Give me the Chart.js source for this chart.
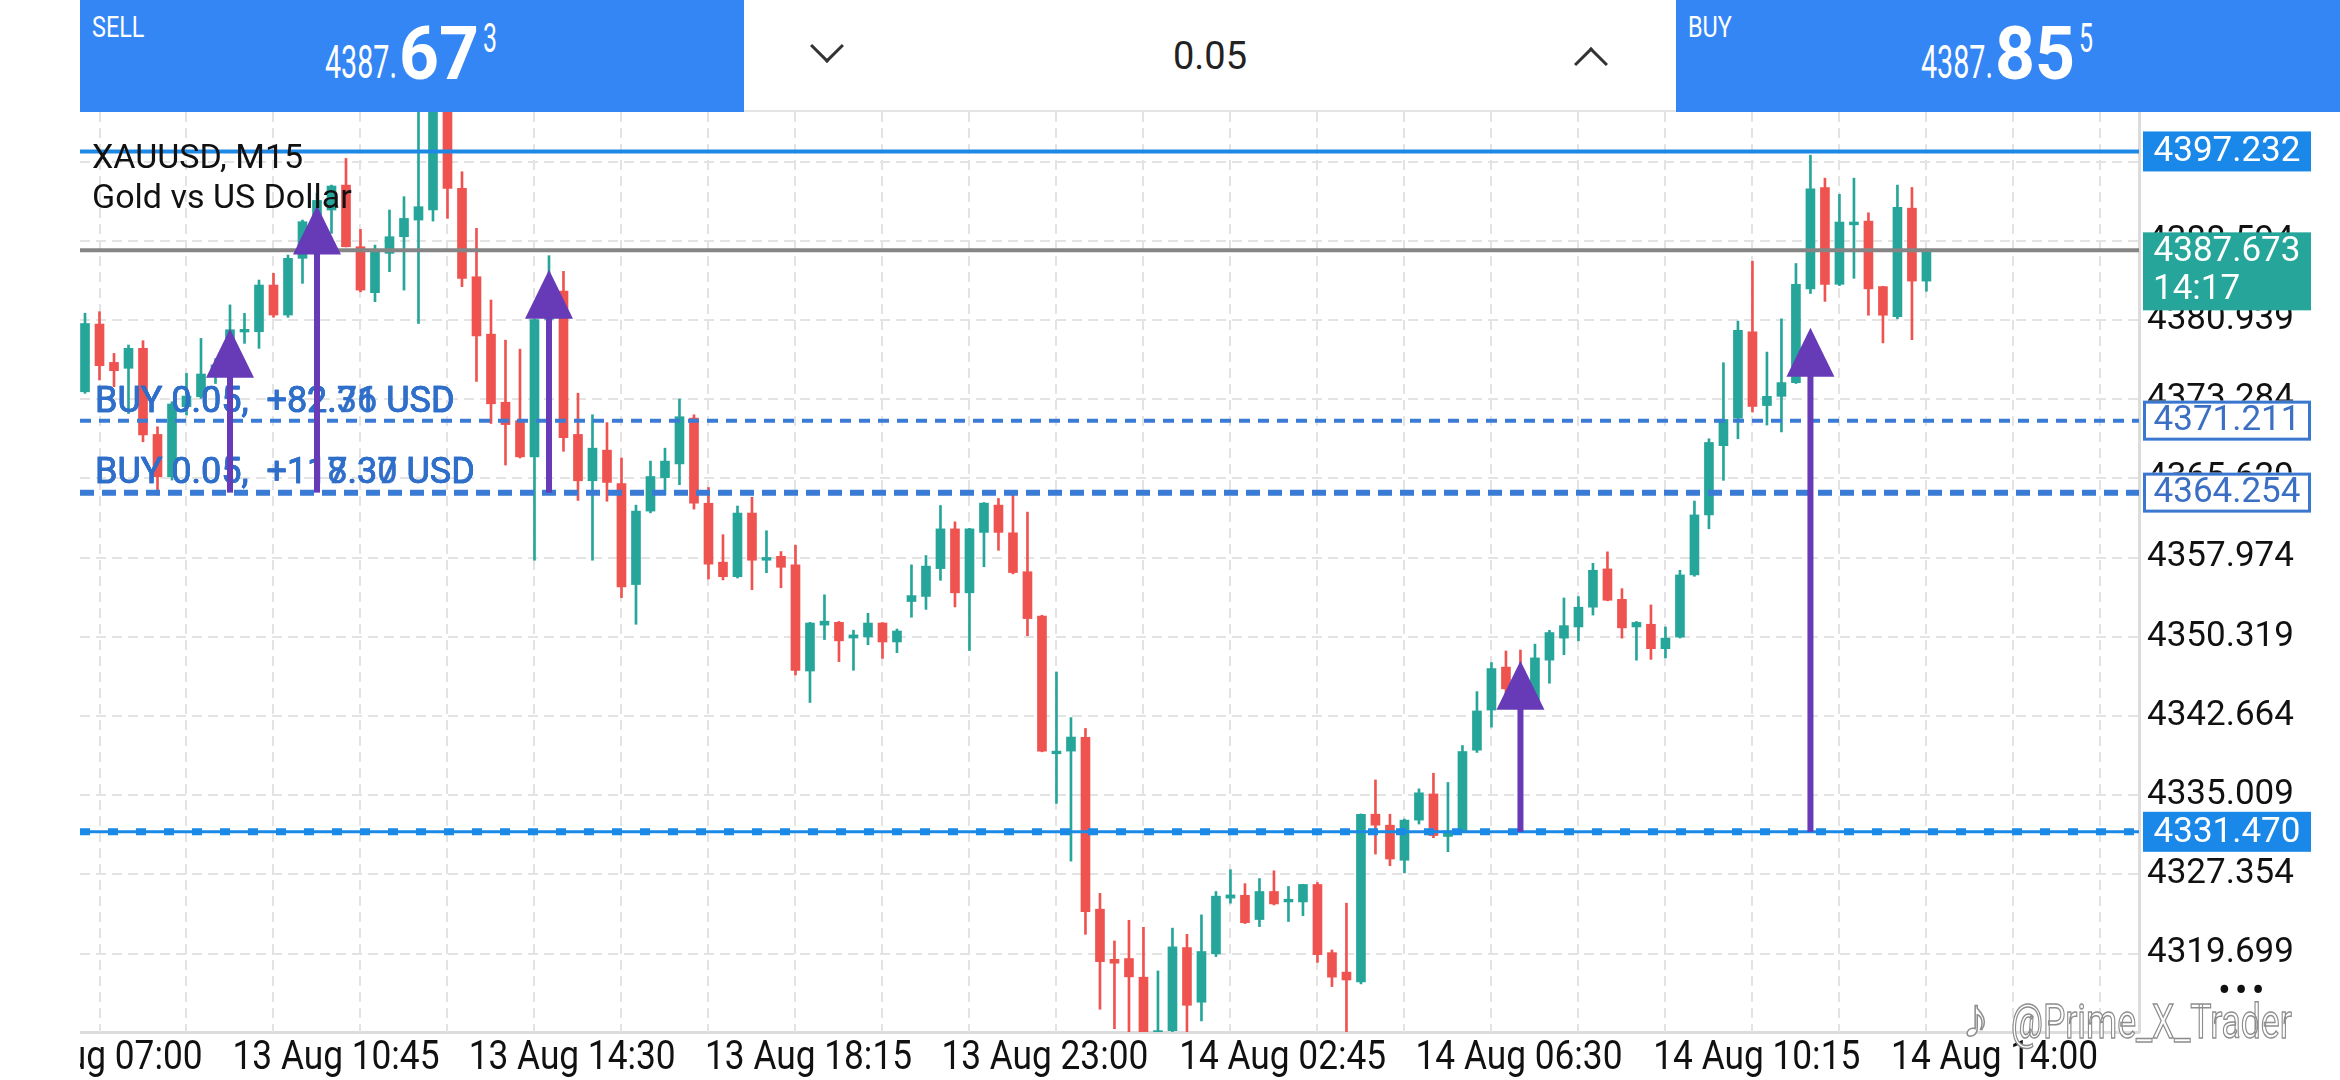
<!DOCTYPE html>
<html>
<head>
<meta charset="utf-8">
<script src="https://cdn.jsdelivr.net/npm/chart.js@4.4.1/dist/chart.umd.min.js"></script>
<style>
  html, body { margin: 0; padding: 0; background: #fff; }
  #wrap { position: relative; width: 2340px; height: 1080px; overflow: hidden; background: #fff; font-family: Roboto, sans-serif; }
  #chart { position: absolute; left: 0; top: 0; }
  #leftStrip { position: absolute; left: 0; top: 0; width: 80px; height: 1080px; background: #fff; }
  .panel { position: absolute; top: 0; height: 112px; }
  .panel svg { position: absolute; left: 0; top: 0; font-family: Roboto, sans-serif; }
  .blue { background: #3486f5; color: #fff; }
  .side { position: absolute; left: 12px; top: 12px; font-size: 30px; line-height: 30px; transform: scaleX(0.78); transform-origin: left top; }
  #mid { left: 744px; width: 932px; background: #fff; border-bottom: 2px solid #e4e4e4; box-sizing: border-box; }
  #lot { position: absolute; left: 0; right: 0; top: 0; line-height: 112px; text-align: center; font-size: 38px; color: #222; }
  .chev { position: absolute; width: 21px; height: 21px; border-right: 3.5px solid #333; border-bottom: 3.5px solid #333; }
  #title { position: absolute; left: 92px; top: 136px; font-size: 34px; line-height: 40px; color: #111; }
  #logo { position: absolute; left: 1962px; top: 988px; font-size: 56px; line-height: 60px; color: #fff; -webkit-text-stroke: 1.5px #8d8d8d; }
  #mark { position: absolute; left: 2011px; top: 992px; font-size: 48px; line-height: 60px; color: #fff; -webkit-text-stroke: 1.5px #8d8d8d; white-space: nowrap; transform: scaleX(0.74); transform-origin: left top; }
  #dots { position: absolute; left: 2218px; top: 970px; font-size: 38px; line-height: 40px; color: #111; letter-spacing: 4px; }
</style>
</head>
<body>
<div id="wrap">
  <canvas id="chart" width="2340" height="1080"></canvas>
  <div id="leftStrip"></div>
  <div id="title">XAUUSD, M15<br>Gold vs US Dollar</div>
  <div id="dots">•••</div>
  <div id="logo">♪</div>
  <div id="mark">@Prime_X_Trader</div>
  <div class="panel blue" style="left:80px;width:664px;">
    <div class="side">SELL</div>
    <svg width="664" height="112">
      <text x="245" y="78" font-size="47" fill="#fff" textLength="72" lengthAdjust="spacingAndGlyphs">4387.</text>
      <text x="319" y="79" font-size="75" font-weight="bold" fill="#fff" textLength="80" lengthAdjust="spacingAndGlyphs">67</text>
      <text x="403" y="52" font-size="41" fill="#fff" textLength="14" lengthAdjust="spacingAndGlyphs">3</text>
    </svg>
  </div>
  <div class="panel" id="mid">
    <div class="chev" style="left:71px;top:34px;transform:rotate(45deg);"></div>
    <div id="lot">0.05</div>
    <div class="chev" style="left:835px;top:52px;transform:rotate(-135deg);"></div>
  </div>
  <div class="panel blue" style="left:1676px;width:664px;">
    <div class="side">BUY</div>
    <svg width="664" height="112">
      <text x="245" y="78" font-size="47" fill="#fff" textLength="72" lengthAdjust="spacingAndGlyphs">4387.</text>
      <text x="319" y="79" font-size="75" font-weight="bold" fill="#fff" textLength="80" lengthAdjust="spacingAndGlyphs">85</text>
      <text x="403" y="52" font-size="41" fill="#fff" textLength="14" lengthAdjust="spacingAndGlyphs">5</text>
    </svg>
  </div>
</div>
<script>
// XAUUSD M15 candles, 13 Aug 07:00 .. 14 Aug ~14:00
const opens = [
  4374.00, 4380.55, 4376.84, 4376.27, 4378.20, 4369.88, 4365.79, 4372.56, 4373.52, 4375.70,
  4376.60, 4379.78, 4379.81, 4384.32, 4381.42, 4386.90, 4390.40, 4391.57, 4393.98, 4388.02,
  4383.58, 4387.38, 4388.99, 4390.60, 4391.57, 4402.50, 4393.66, 4385.12, 4379.57, 4372.99,
  4371.21, 4367.71, 4381.00, 4383.74, 4369.88, 4365.40, 4368.36, 4365.13, 4355.37, 4362.47,
  4365.70, 4367.03, 4371.47, 4363.23, 4357.53, 4356.13, 4362.28, 4357.72, 4358.10, 4357.27,
  4347.01, 4351.45, 4351.72, 4350.20, 4350.31, 4351.65, 4349.82, 4353.73, 4354.22, 4356.91,
  4360.75, 4354.57, 4360.41, 4363.05, 4360.37, 4356.61, 4352.31, 4339.01, 4339.27, 4340.59,
  4323.99, 4319.15, 4319.22, 4317.42, 4311.87, 4312.25, 4320.28, 4315.00, 4319.67, 4325.06,
  4325.33, 4322.99, 4325.70, 4324.69, 4324.69, 4326.38, 4319.79, 4317.91, 4316.96, 4333.17,
  4332.11, 4328.72, 4332.60, 4335.13, 4331.02, 4331.55, 4339.36, 4343.24, 4347.39, 4347.00,
  4344.04, 4348.06, 4350.19, 4351.27, 4353.18, 4356.88, 4353.94, 4351.27, 4351.53, 4349.17,
  4350.29, 4356.30, 4362.10, 4368.79, 4371.46, 4379.80, 4372.67, 4373.56, 4374.89, 4383.95,
  4393.75, 4384.39, 4390.14, 4390.50, 4384.17, 4381.27, 4391.75, 4384.70
];
const highs = [
  4381.60, 4381.74, 4377.71, 4378.52, 4378.94, 4370.62, 4373.04, 4375.78, 4379.16, 4377.20,
  4382.40, 4381.58, 4384.80, 4385.45, 4387.22, 4390.60, 4393.20, 4393.98, 4396.56, 4389.70,
  4388.18, 4391.57, 4392.86, 4403.50, 4406.00, 4404.50, 4395.27, 4389.80, 4382.87, 4378.99,
  4378.12, 4381.05, 4387.16, 4385.64, 4373.87, 4371.78, 4371.02, 4367.60, 4363.04, 4367.30,
  4368.55, 4373.30, 4371.78, 4364.75, 4360.19, 4362.96, 4363.80, 4360.57, 4358.56, 4359.17,
  4351.72, 4354.38, 4351.80, 4350.96, 4352.59, 4351.70, 4351.07, 4357.27, 4358.17, 4363.01,
  4361.43, 4360.80, 4363.30, 4363.69, 4364.25, 4362.37, 4352.40, 4346.92, 4342.51, 4341.46,
  4325.52, 4320.92, 4322.92, 4322.24, 4318.02, 4322.16, 4321.56, 4323.44, 4325.70, 4327.81,
  4326.46, 4326.95, 4327.70, 4326.19, 4326.40, 4326.57, 4320.05, 4324.57, 4333.20, 4336.48,
  4333.17, 4332.70, 4335.62, 4337.13, 4336.24, 4339.81, 4345.02, 4347.83, 4348.95, 4349.04,
  4349.61, 4350.95, 4354.07, 4354.20, 4357.42, 4358.53, 4354.97, 4351.80, 4353.40, 4351.27,
  4356.75, 4363.44, 4369.46, 4376.81, 4380.83, 4386.62, 4377.84, 4381.05, 4386.40, 4396.87,
  4394.65, 4393.09, 4394.65, 4391.30, 4384.20, 4393.98, 4393.75, 4387.80
];
const lows = [
  4373.85, 4375.14, 4374.49, 4371.90, 4369.17, 4364.02, 4365.47, 4371.75, 4373.36, 4374.80,
  4376.00, 4378.68, 4378.20, 4381.20, 4381.20, 4384.48, 4389.60, 4389.31, 4388.00, 4383.67,
  4382.71, 4385.61, 4383.83, 4380.60, 4390.50, 4390.76, 4384.16, 4375.00, 4370.94, 4366.92,
  4367.60, 4357.72, 4379.50, 4368.25, 4363.50, 4357.72, 4363.42, 4354.11, 4351.53, 4362.30,
  4364.07, 4365.02, 4362.66, 4355.90, 4355.82, 4356.00, 4354.87, 4356.51, 4355.06, 4346.63,
  4343.97, 4350.05, 4347.92, 4347.08, 4349.55, 4348.23, 4348.79, 4352.21, 4352.97, 4355.78,
  4353.21, 4348.99, 4357.09, 4358.68, 4356.40, 4350.42, 4339.20, 4334.22, 4328.64, 4321.56,
  4314.32, 4312.44, 4311.50, 4311.50, 4311.70, 4311.50, 4312.14, 4313.19, 4319.41, 4324.57,
  4322.60, 4322.31, 4324.40, 4322.80, 4323.37, 4318.85, 4316.51, 4311.50, 4316.77, 4329.32,
  4328.19, 4327.51, 4332.22, 4330.90, 4329.55, 4331.45, 4339.14, 4341.59, 4344.71, 4344.50,
  4343.82, 4345.83, 4348.59, 4349.93, 4352.42, 4353.80, 4350.19, 4348.06, 4348.14, 4348.28,
  4350.20, 4356.17, 4360.76, 4365.44, 4369.46, 4372.04, 4370.79, 4370.12, 4374.80, 4383.50,
  4382.74, 4384.26, 4384.97, 4381.40, 4378.73, 4381.05, 4379.04, 4383.72
];
const closes = [
  4380.60, 4376.52, 4376.04, 4378.20, 4369.82, 4365.79, 4372.82, 4373.59, 4375.72, 4376.60,
  4380.00, 4380.04, 4384.32, 4381.42, 4386.90, 4390.44, 4392.50, 4393.89, 4388.02, 4383.83,
  4387.54, 4388.99, 4390.76, 4391.89, 4403.00, 4393.66, 4384.96, 4379.40, 4372.84, 4370.83,
  4367.71, 4380.97, 4383.70, 4369.57, 4365.40, 4368.55, 4365.24, 4355.14, 4362.47, 4365.81,
  4367.30, 4371.59, 4363.23, 4357.34, 4356.13, 4362.28, 4357.72, 4357.99, 4357.04, 4347.08,
  4351.65, 4351.83, 4349.93, 4350.50, 4351.65, 4349.82, 4350.88, 4354.30, 4357.15, 4360.75,
  4354.57, 4360.75, 4363.24, 4360.41, 4356.53, 4352.08, 4339.27, 4339.27, 4340.63, 4323.74,
  4318.92, 4318.77, 4317.45, 4311.69, 4312.25, 4320.35, 4314.70, 4319.90, 4325.25, 4325.37,
  4322.69, 4325.70, 4324.50, 4324.95, 4326.38, 4319.60, 4317.42, 4317.15, 4333.17, 4332.11,
  4328.84, 4332.60, 4335.24, 4331.11, 4331.55, 4339.23, 4343.15, 4347.25, 4345.29, 4345.50,
  4348.28, 4350.73, 4351.40, 4353.18, 4356.75, 4353.85, 4351.18, 4351.71, 4349.17, 4350.19,
  4356.30, 4362.10, 4369.10, 4371.33, 4379.93, 4372.58, 4373.56, 4374.89, 4384.39, 4393.62,
  4384.39, 4390.41, 4390.41, 4383.95, 4381.40, 4391.84, 4384.70, 4387.67
];

// time axis: label positions in bar units and their texts
const xTickAt = [0.97, 17.31, 33.6, 49.9, 66.2, 82.6, 98.9, 115.3, 131.7];
const xTickLabels = ['13 Aug 07:00', '13 Aug 10:45', '13 Aug 14:30', '13 Aug 18:15', '13 Aug 23:00',
                     '14 Aug 02:45', '14 Aug 06:30', '14 Aug 10:15', '14 Aug 14:00'];
const yTicks = [4396.249, 4388.594, 4380.939, 4373.284, 4365.629, 4357.974, 4350.319,
                4342.664, 4335.009, 4327.354, 4319.699];

// price levels
const highLine = 4397.232;
const bidPrice = 4387.673;
const bidTimer = '14:17';
const tp1 = 4371.211;
const tp2 = 4364.254;
const lowLine = 4331.470;
const posLabels1 = ['BUY 0.05,  +82.36 USD', 'BUY 0.05,  +82.71 USD'];
const posLabels2 = ['BUY 0.05,  +118.30 USD', 'BUY 0.05,  +117.37 USD'];

// trade arrows: bar index, entry price, arrow tip price
const arrowBars = [10, 16, 32, 99, 119];
const arrowFrom = [4364.254, 4364.254, 4364.254, 4331.470, 4331.470];
const arrowTip = [4380.1, 4392.0, 4385.8, 4348.0, 4380.2];

const UP = '#26a69a';
const DOWN = '#ef5350';
const colors = opens.map((o, i) => closes[i] >= o ? UP : DOWN);

const overlay = {
  id: 'overlay',
  beforeDatasetsDraw(chart) {
    const { ctx, chartArea: a, scales: { x } } = chart;
    ctx.save();
    ctx.strokeStyle = '#e3e3e3';
    ctx.lineWidth = 2;
    ctx.setLineDash([10, 6]);
    for (let v = 1; v < x.max; v += 6) {
      const px = Math.round(x.getPixelForValue(v));
      ctx.beginPath();
      ctx.moveTo(px, a.top);
      ctx.lineTo(px, a.bottom);
      ctx.stroke();
    }
    ctx.restore();
  },
  afterDatasetsDraw(chart) {
    const { ctx, chartArea: a, scales: { x, y } } = chart;
    ctx.save();

    function hline(price, color, width, dash) {
      const py = y.getPixelForValue(price);
      ctx.strokeStyle = color;
      ctx.lineWidth = width;
      ctx.setLineDash(dash || []);
      ctx.beginPath();
      ctx.moveTo(a.left, py);
      ctx.lineTo(a.right, py);
      ctx.stroke();
      return py;
    }

    hline(highLine, '#1e88e5', 4);
    hline(bidPrice, '#858585', 4);
    hline(tp1, '#3a7bd5', 4, [11, 8]);
    hline(tp2, '#3a7bd5', 6, [14, 8]);
    hline(lowLine, '#1a8ae6', 3);
    hline(lowLine, '#1a8ae6', 7, [10, 18]);
    ctx.setLineDash([]);

    // time labels, condensed like the terminal font
    ctx.fillStyle = '#111';
    ctx.font = '41px Roboto, sans-serif';
    ctx.textAlign = 'center';
    ctx.textBaseline = 'middle';
    xTickAt.forEach((v, i) => {
      const px = x.getPixelForValue(v);
      ctx.save();
      ctx.translate(px, a.bottom + 27);
      ctx.scale(0.86, 1);
      ctx.fillText(xTickLabels[i], 0, 0);
      ctx.restore();
    });

    // position texts
    ctx.font = '36px Roboto, sans-serif';
    ctx.fillStyle = '#2f6fca';
    ctx.strokeStyle = '#2f6fca';
    ctx.lineWidth = 0.6;
    ctx.textAlign = 'left';
    ctx.textBaseline = 'alphabetic';
    const y1 = y.getPixelForValue(tp1) - 9;
    const y2 = y.getPixelForValue(tp2) - 10;
    posLabels1.forEach(t => { ctx.fillText(t, 95, y1); ctx.strokeText(t, 95, y1); });
    posLabels2.forEach(t => { ctx.fillText(t, 95, y2); ctx.strokeText(t, 95, y2); });

    // arrows
    ctx.fillStyle = '#673ab7';
    arrowBars.forEach((b, i) => {
      const px = x.getPixelForValue(b);
      const pTip = y.getPixelForValue(arrowTip[i]);
      const pBase = y.getPixelForValue(arrowFrom[i]);
      ctx.fillRect(px - 3, pTip + 48, 6, pBase - pTip - 48);
      ctx.beginPath();
      ctx.moveTo(px, pTip);
      ctx.lineTo(px - 24, pTip + 49);
      ctx.lineTo(px + 24, pTip + 49);
      ctx.closePath();
      ctx.fill();
    });

    // right-side price tags
    const bx = a.right + 4;
    const bw = 168;
    ctx.font = '35px Roboto, sans-serif';
    ctx.textAlign = 'center';
    ctx.textBaseline = 'middle';
    function tag(price, fill, text, border) {
      const py = y.getPixelForValue(price);
      ctx.fillStyle = fill;
      ctx.fillRect(bx, py - 20, bw, 40);
      if (border) {
        ctx.strokeStyle = border;
        ctx.lineWidth = 3;
        ctx.strokeRect(bx + 1.5, py - 18.5, bw - 3, 37);
      }
      ctx.fillStyle = text;
      ctx.fillText(price.toFixed(3), bx + bw / 2, py + 1);
    }
    tag(highLine, '#1a88e8', '#fff');
    tag(tp1, '#fff', '#3a6fc4', '#3a78d0');
    tag(tp2, '#fff', '#3a6fc4', '#3a78d0');
    tag(lowLine, '#1a88e8', '#fff');

    const pb = y.getPixelForValue(bidPrice);
    ctx.fillStyle = '#26a69a';
    ctx.fillRect(bx, pb - 18, bw, 78);
    ctx.fillStyle = '#fff';
    ctx.fillText(bidPrice.toFixed(3), bx + bw / 2, pb + 2);
    ctx.textAlign = 'left';
    ctx.fillText(bidTimer, bx + 10, pb + 40);
    ctx.restore();
  }
};

new Chart(document.getElementById('chart'), {
  type: 'bar',
  data: {
    datasets: [
      {
        label: 'wicks',
        data: lows.map((l, i) => ({ x: i, y: [l, highs[i]] })),
        backgroundColor: colors,
        barThickness: 2,
        grouped: false,
        order: 2
      },
      {
        label: 'bodies',
        data: opens.map((o, i) => ({ x: i, y: [o, closes[i]] })),
        backgroundColor: colors,
        barThickness: 9,
        minBarLength: 2,
        grouped: false,
        order: 1
      }
    ]
  },
  options: {
    responsive: false,
    animation: false,
    devicePixelRatio: 1,
    layout: { padding: { left: 80, right: 0, top: 0, bottom: 0 } },
    plugins: { legend: { display: false }, tooltip: { enabled: false } },
    scales: {
      x: {
        type: 'linear',
        offset: false,
        min: -0.345,
        max: 141.66,
        grid: { display: false },
        border: { color: '#dcdcdc', width: 3 },
        afterBuildTicks: s => { s.ticks = xTickAt.map(v => ({ value: v })); },
        afterFit: s => { s.height = 48; s.paddingLeft = 0; s.paddingRight = 0; },
        ticks: { display: false }
      },
      y: {
        position: 'right',
        min: 4312.12,
        max: 4411.87,
        grid: { color: '#e3e3e3', lineWidth: 2, drawTicks: false },
        border: { color: '#dcdcdc', width: 3, dash: [10, 6] },
        afterBuildTicks: s => { s.ticks = yTicks.map(v => ({ value: v })); },
        afterFit: s => { s.width = 201; s.paddingTop = 0; s.paddingBottom = 0; },
        ticks: {
          padding: 8,
          color: '#111',
          font: { family: 'Roboto, sans-serif', size: 35 },
          callback: v => v.toFixed(3)
        }
      }
    }
  },
  plugins: [overlay]
});
</script>
</body>
</html>
